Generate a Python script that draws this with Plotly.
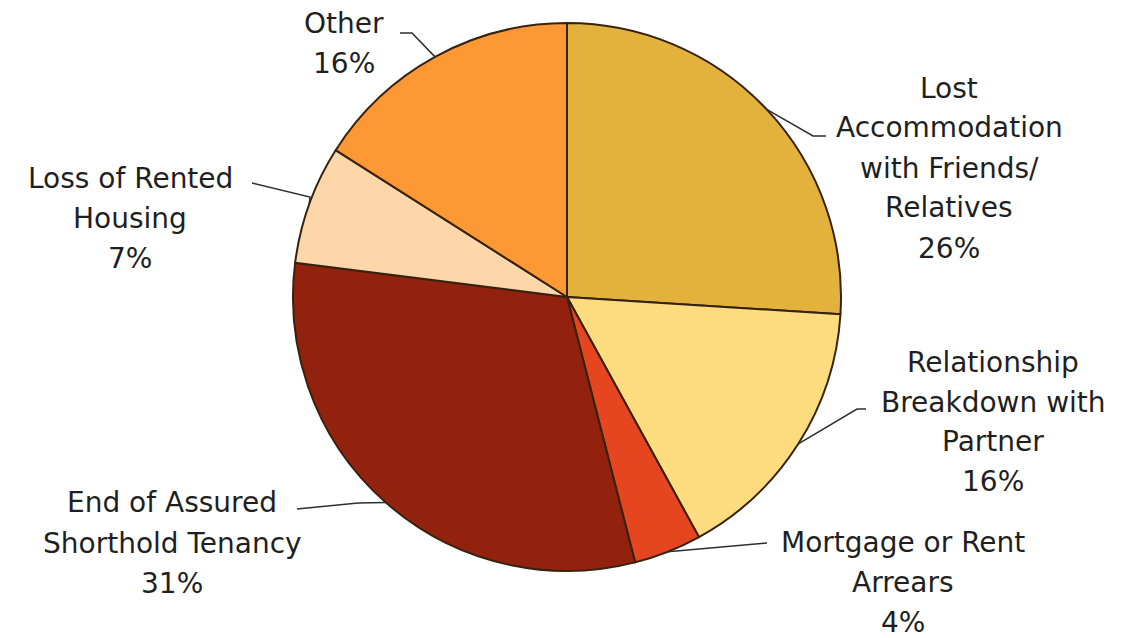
import math
import plotly.graph_objects as go

W, H = 1132, 638

# Reasons for homelessness (share of cases, %)
categories = [
    "Lost Accommodation with Friends/ Relatives",
    "Relationship Breakdown with Partner",
    "Mortgage or Rent Arrears",
    "End of Assured Shorthold Tenancy",
    "Loss of Rented Housing",
    "Other",
]
values = [26, 16, 4, 31, 7, 16]
label_lines = [
    ["Lost", "Accommodation", "with Friends/", "Relatives"],
    ["Relationship", "Breakdown with", "Partner"],
    ["Mortgage or Rent", "Arrears"],
    ["End of Assured", "Shorthold Tenancy"],
    ["Loss of Rented", "Housing"],
    ["Other"],
]
colors = ["#E3B23C", "#FDDC80", "#E5451F", "#92220D", "#FDD6AA", "#FD9834"]

# Layout of the pie and its labels (pixels)
CX, CY, R = 567, 297, 274
label_center = [(949, 88), (993, 362), (903, 542), (172, 503), (130, 178), (344, 24)]
line_gap = 40
elbows = [
    [(813, 136), (826, 136)],
    [(857, 409), (866, 409)],
    [(767, 543)],
    [(358, 503), (297, 509)],
    [(310, 197), (252, 183)],
    [(412, 33), (400, 33)],
]


def px_x(x):
    return x / W


def px_y(y):
    return 1 - y / H


fig = go.Figure(
    go.Pie(
        labels=categories,
        values=values,
        sort=False,
        direction="clockwise",
        rotation=0,
        marker=dict(colors=colors, line=dict(color="#36220f", width=2)),
        textinfo="none",
        hoverinfo="label+percent",
        domain=dict(x=[px_x(CX - R), px_x(CX + R)], y=[px_y(CY + R), px_y(CY - R)]),
        showlegend=False,
    )
)

annotations = []
shapes = []
total = sum(values)
cum = 0
for i, v in enumerate(values):
    mid = (cum + v / 2) / total * 2 * math.pi
    cum += v
    ex = CX + R * math.sin(mid)
    ey = CY - R * math.cos(mid)

    # leader line from the slice edge to the label
    pts = [(ex, ey)] + elbows[i]
    path = "M " + " L ".join(f"{px_x(x):.5f},{px_y(y):.5f}" for x, y in pts)
    shapes.append(
        dict(type="path", path=path, xref="paper", yref="paper",
             line=dict(color="#2e2e2e", width=1.5))
    )

    lx, ly = label_center[i]
    lines = label_lines[i] + [f"{v}%"]
    for k, t in enumerate(lines):
        annotations.append(
            dict(
                x=px_x(lx), y=px_y(ly + k * line_gap),
                xref="paper", yref="paper",
                text=t, showarrow=False,
                xanchor="center", yanchor="middle",
                font=dict(family="DejaVu Sans", size=28, color="#1f1f1f"),
            )
        )

fig.update_layout(
    width=W, height=H,
    margin=dict(l=0, r=0, t=0, b=0),
    paper_bgcolor="white",
    plot_bgcolor="white",
    annotations=annotations,
    shapes=shapes,
)

fig.write_html("out.html")
